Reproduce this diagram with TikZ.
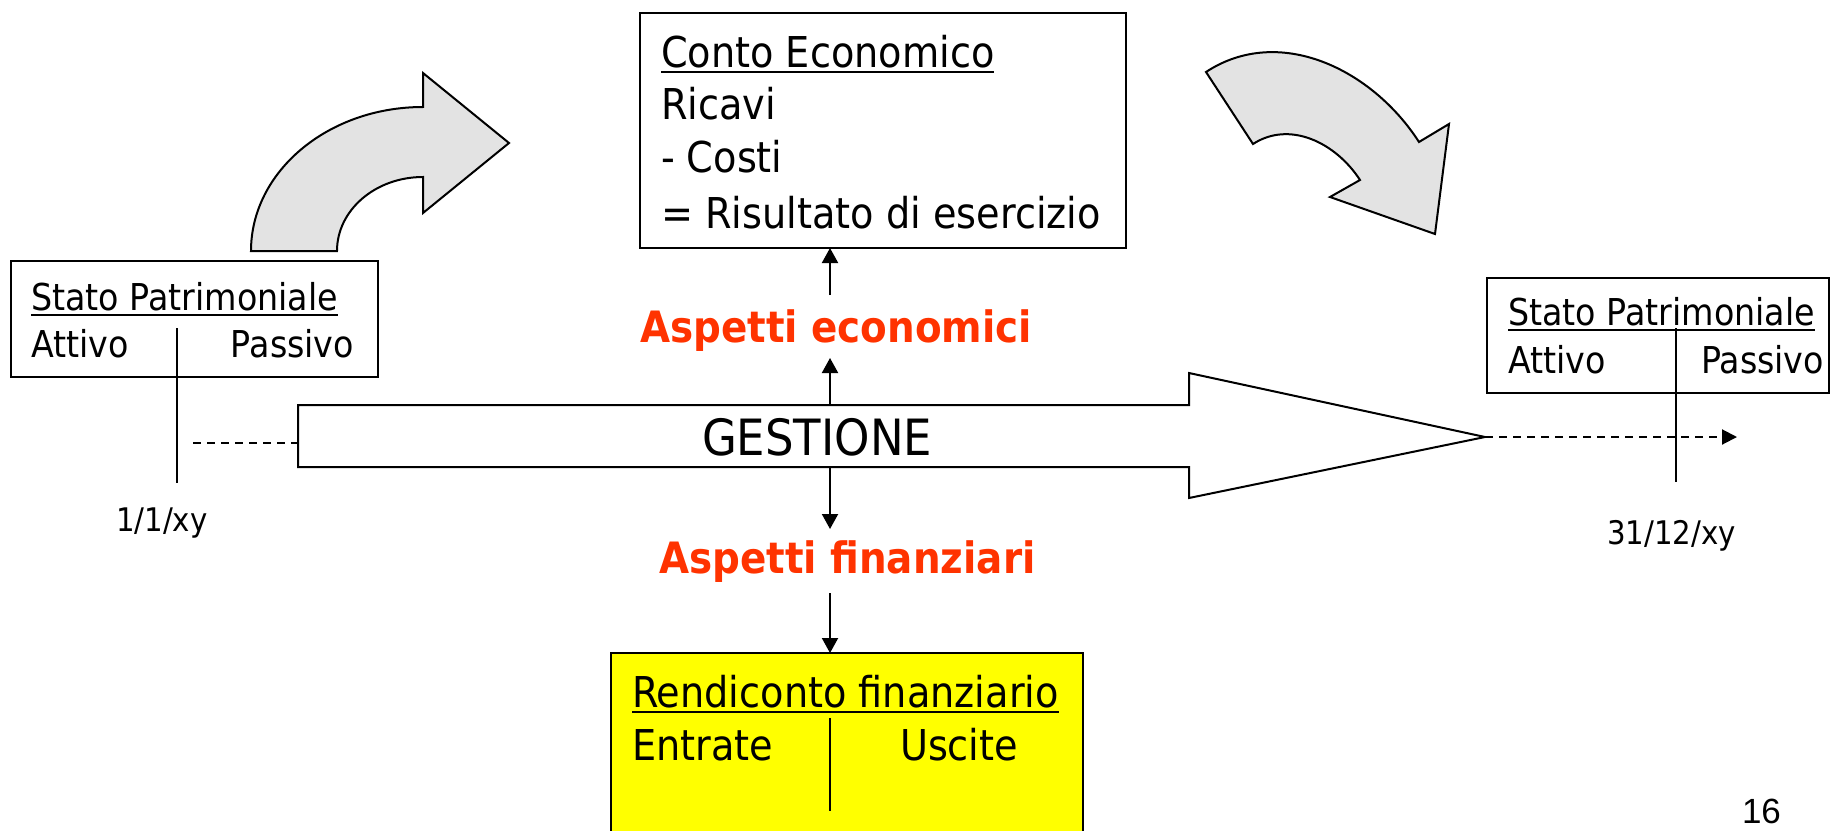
\documentclass[tikz,border=0pt]{standalone}
\usepackage{fontspec}
\setmainfont{DejaVu Sans}[FakeStretch=0.9]
\newfontfamily\arialfont{Liberation Sans}
\usetikzlibrary{arrows.meta}
\definecolor{aspred}{RGB}{255,51,0}
\definecolor{arrowgray}{RGB}{227,227,227}
\definecolor{boxyellow}{RGB}{255,255,0}
\newcommand\fsSP{\fontsize{37}{44}\selectfont}
\newcommand\fsBox{\fontsize{42.5}{50}\selectfont}
\newcommand\fsGest{\fontsize{50}{58}\selectfont}
\newcommand\fsAsp{\fontsize{43.2}{50}\selectfont\bfseries}
\newcommand\fsDate{\fontsize{32.5}{38}\selectfont}
\begin{document}
\begin{tikzpicture}[x=1pt,y=-1pt,
  txt/.style={inner sep=0pt,outer sep=0pt,anchor=base west},
  boxnode/.style={draw,line width=2pt,inner sep=0pt,outer sep=0pt,anchor=north west},
  uline/.style={line width=2.4pt},
  divline/.style={line width=2pt},
  conn/.style={line width=2pt,-{Triangle[length=15pt,width=16pt]}},
  dashline/.style={line width=2pt,dash pattern=on 8pt off 6pt},
  bigarrow/.style={draw,line width=2pt,fill=arrowgray,line join=miter},
  gestarrow/.style={draw,line width=2pt,fill=white,line join=miter}]
\useasboundingbox (0,0) rectangle (1836,830);

% ---------- curved grey arrows ----------
\path[bigarrow] (251,251) .. controls (251,171.5) and (328,107) .. (423,107)
  -- (423,73) -- (509,143) -- (423,213) -- (423,177)
  .. controls (375.5,177) and (337,210) .. (337,251) -- cycle;
\path[bigarrow] (1206,72) .. controls (1279,24) and (1372,69) .. (1419,142)
  -- (1449,124) -- (1435,234) -- (1330,197) -- (1360,180)
  .. controls (1336,143) and (1290,120) .. (1253,144) -- cycle;

% ---------- left Stato Patrimoniale ----------
\node[boxnode,minimum width=367pt,minimum height=116pt] (spL) at (11,261) {};
\node[txt] (spLt) at (31,310) {\fsSP Stato Patrimoniale};
\draw[uline] ([yshift=-5pt]spLt.base west) -- ([yshift=-5pt]spLt.base east);
\node[txt] (spLa) at (31,357) {\fsSP Attivo};
\node[txt,anchor=base east] (spLp) at (354,357) {\fsSP Passivo};
\draw[divline] (177,328) -- (177,483);
\node[txt] (dL) at (116,531) {\fsDate 1/1/xy};

% ---------- right Stato Patrimoniale ----------
\node[boxnode,minimum width=342pt,minimum height=115pt] (spR) at (1487,278) {};
\node[txt] (spRt) at (1508,325) {\fsSP Stato Patrimoniale};
\draw[uline] ([yshift=-5pt]spRt.base west) -- ([yshift=-5pt]spRt.base east);
\node[txt] (spRa) at (1508,373) {\fsSP Attivo};
\node[txt,anchor=base east] (spRp) at (1824,373) {\fsSP Passivo};
\node[txt] (dR) at (1607,544) {\fsDate 31/12/xy};

% ---------- GESTIONE arrow ----------
\path[gestarrow] (298,405) -- (1189,405) -- (1189,373) -- (1485,437)
  -- (1189,498) -- (1189,467) -- (298,467) -- cycle;
\coordinate (gLeft) at (298,443);
\coordinate (gTip) at (1485,437);
\coordinate (gTop) at (830,405);
\coordinate (gBot) at (830,468);
\node[txt] (gest) at (702,455) {\fsGest GESTIONE};
\coordinate (dashL) at (193,443);
\coordinate (dashR) at (1737,437);
\draw[dashline] (dashL) -- (gLeft);
\draw[dashline,-{Triangle[length=15pt,width=15pt]}] (gTip) -- (dashR);
\draw[divline] (1676,328) -- (1676,482);

% ---------- Conto Economico ----------
\node[boxnode,minimum width=486pt,minimum height=235pt] (ce) at (640,13) {};
\node[txt] (ce1) at (661,67) {\fsBox Conto Economico};
\draw[uline] ([yshift=-5pt]ce1.base west) -- ([yshift=-5pt]ce1.base east);
\node[txt] (ce2) at (661,119) {\fsBox Ricavi};
\node[txt] (ce3) at (661,172) {\fsBox - Costi};
\node[txt] (ce4) at (661,228) {\fsBox = Risultato di esercizio};

% ---------- Aspetti ----------
\node[txt,text=aspred] (aspE) at (640,342) {\fsAsp Aspetti economici};
\node[txt,text=aspred] (aspF) at (659,573) {\fsAsp Aspetti finanziari};
\coordinate (eTop) at (830,295);
\coordinate (eBot) at (830,358);
\coordinate (fTop) at (830,529);
\coordinate (fBot) at (830,593);

% ---------- Rendiconto finanziario ----------
\node[boxnode,fill=boxyellow,minimum width=472pt,minimum height=190pt] (rf) at (611,653) {};
\node[txt] (rf1) at (632,707) {\fsBox Rendiconto finanziario};
\draw[uline] ([yshift=-5pt]rf1.base west) -- ([yshift=-5pt]rf1.base east);
\node[txt] (rf2) at (632,760) {\fsBox Entrate};
\node[txt] (rf3) at (900,760) {\fsBox Uscite};
\draw[divline] (830,718) -- (830,811);

% ---------- vertical connectors ----------
\draw[conn] (eTop) -- (eTop |- ce.south);
\draw[conn] (gTop) -- (eBot);
\draw[conn] (gBot) -- (fTop);
\draw[conn] (fBot) -- (fBot |- rf.north);

% ---------- page number ----------
\node[txt] (pg) at (1742,823) {\arialfont\fontsize{35}{40}\selectfont 16};
\end{tikzpicture}
\end{document}
